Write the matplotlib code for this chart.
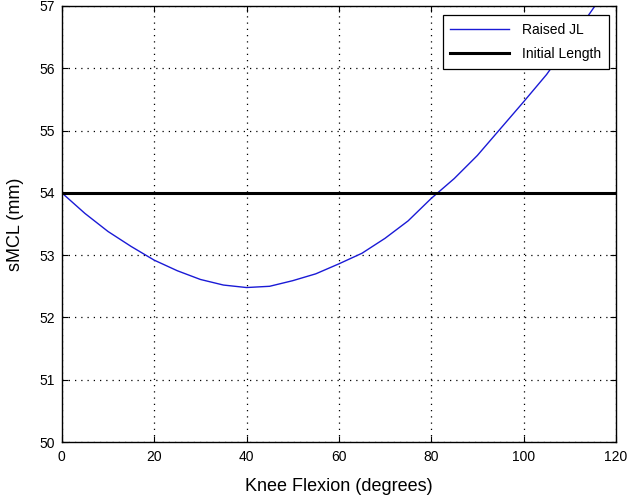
import matplotlib
matplotlib.use("Agg")
import matplotlib.pyplot as plt
import numpy as np

flexion = [0, 5, 10, 15, 20, 25, 30, 35, 40, 45, 50, 55, 60, 65, 70, 75, 80, 85, 90, 95, 100, 105, 110, 115, 120]
raised_jl = [54.00, 53.67, 53.38, 53.14, 52.92, 52.75, 52.61, 52.52, 52.48, 52.50, 52.59, 52.70, 52.86,
             53.03, 53.27, 53.55, 53.91, 54.23, 54.60, 55.03, 55.46, 55.90, 56.42, 56.95, 57.50]
initial_length = 54.0
xticks = [0, 20, 40, 60, 80, 100, 120]
yticks = [50, 51, 52, 53, 54, 55, 56, 57]

plt.rcParams['font.family'] = ['Liberation Sans', 'DejaVu Sans']

fig = plt.figure(figsize=(6.31, 4.98), dpi=100)
ax = fig.add_axes([0.098, 0.1124, 0.878, 0.8756])

ax.plot(flexion, raised_jl, color='#1a1ad6', lw=1.0, label='Raised JL')
ax.axhline(initial_length, color='black', lw=2.2, label='Initial Length')

ax.set_xlim(0, 120)
ax.set_ylim(50, 57)
ax.set_xticks(xticks)
ax.set_yticks(yticks)
ax.tick_params(direction='in', length=4, width=0.8, labelsize=10, top=True, right=True)
ax.tick_params(axis='x', pad=6)
ax.tick_params(axis='y', pad=5)
ax.grid(True, linestyle=(0, (1, 4)), color='black', lw=0.9)
for s in ax.spines.values():
    s.set_linewidth(1.0)

ax.set_xlabel('Knee Flexion (degrees)', fontsize=13, labelpad=10)
ax.set_ylabel('sMCL (mm)', fontsize=13, labelpad=11)

leg = ax.legend(loc='upper right', fontsize=10, fancybox=False, framealpha=1, edgecolor='black',
                handlelength=4.2, handletextpad=0.95, borderpad=0.55, labelspacing=0.75,
                borderaxespad=0, bbox_to_anchor=(0.987, 0.979))
leg.get_frame().set_linewidth(0.9)

fig.savefig('out.png', dpi=100)
